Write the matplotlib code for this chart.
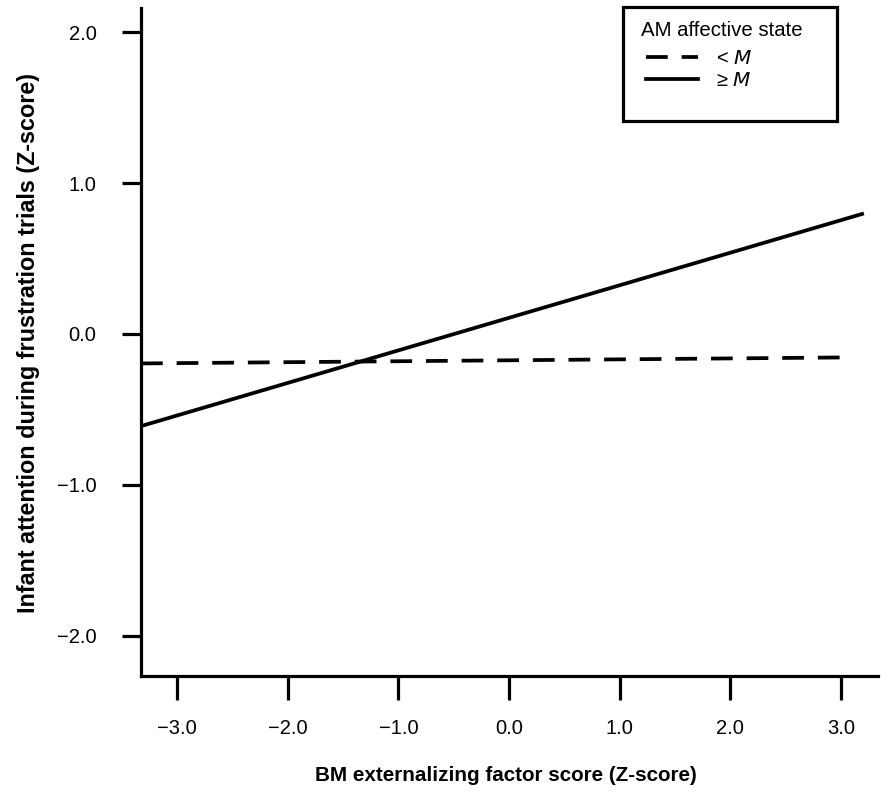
import matplotlib
matplotlib.use("Agg")
import matplotlib.pyplot as plt
from matplotlib.patches import Rectangle
from matplotlib.ticker import FuncFormatter

plt.rcParams["font.family"] = ["Liberation Sans", "DejaVu Sans"]

# Simple slopes
x_ticks = [-3, -2, -1, 0, 1, 2, 3]
y_ticks = [-2, -1, 0, 1, 2]
low_x = [-3.325, 3.063]          # AM affective state < M
low_y = [-0.195, -0.155]
high_x = [-3.325, 3.19]          # AM affective state >= M
high_y = [-0.61, 0.795]


def fmt(v, pos):
    s = f"{v:.1f}"
    if s == "-0.0":
        s = "0.0"
    return s.replace("-", "\u2212")


fig = plt.figure(figsize=(8.88, 7.99), dpi=100)
ax = fig.add_axes([141 / 888, 123 / 799, 737 / 888, 668 / 799])

ln_low, = ax.plot(low_x, low_y, color="black", linewidth=2.7,
                  linestyle=(0, (5.8, 3.7)), label="< $\\it{M}$")
ln_high, = ax.plot(high_x, high_y, color="black", linewidth=2.7,
                   label="\u2265 $\\it{M}$")

ax.set_xlim(-3.325, 3.334)
ax.set_ylim(-2.265, 2.159)

for side in ["top", "right"]:
    ax.spines[side].set_visible(False)
for side in ["left", "bottom"]:
    ax.spines[side].set_linewidth(2.3)

ax.set_xticks(x_ticks)
ax.set_yticks(y_ticks)
ax.xaxis.set_major_formatter(FuncFormatter(fmt))
ax.yaxis.set_major_formatter(FuncFormatter(fmt))
ax.tick_params(axis="x", direction="out", length=17, width=2.3, pad=14, labelsize=14.5)
ax.tick_params(axis="y", direction="out", length=14, width=2.3, pad=18, labelsize=14.5)

ax.set_xlabel("BM externalizing factor score (Z-score)", fontsize=14.9, fontweight="bold")
ax.set_ylabel("Infant attention during frustration trials (Z-score)", fontsize=16.8,
              fontweight="bold")
ax.xaxis.set_label_coords(0.495, -0.135)
ax.yaxis.set_label_coords(-0.137, 0.498)

# Legend: box, title and entries
fig.patches.append(Rectangle((623 / 888, 678 / 799), 214 / 888, 114 / 799,
                             transform=fig.transFigure, fill=False,
                             edgecolor="black", linewidth=2.3))
fig.text(641 / 888, (799 - 36) / 799, "AM affective state", fontsize=14.7,
         ha="left", va="baseline")
fig.legend(handles=[ln_low, ln_high], loc="upper left",
           bbox_to_anchor=(646 / 888, (799 - 49) / 799),
           frameon=False, fontsize=14.5, handlelength=2.6, labelspacing=0.15,
           handletextpad=0.9, borderaxespad=0, borderpad=0)

fig.savefig("out.png", dpi=100)
